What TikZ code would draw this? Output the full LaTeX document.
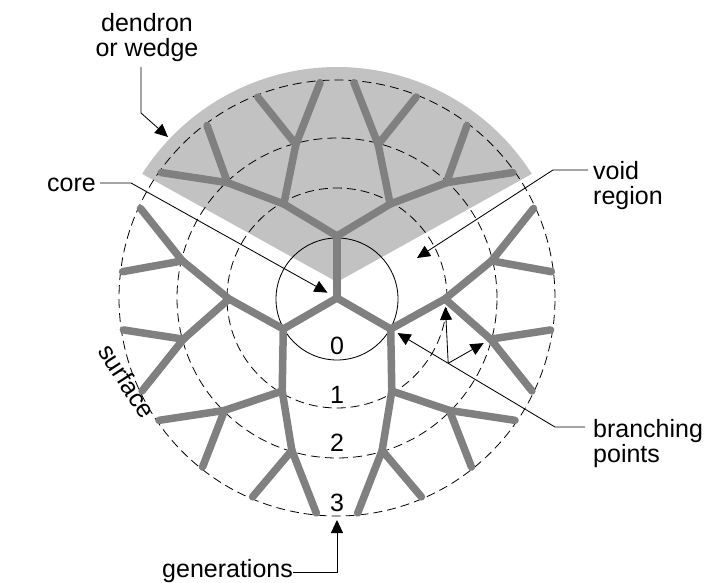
\documentclass[tikz,border=0pt]{standalone}
\usepackage{fontspec}
\setmainfont{Liberation Sans}
\usetikzlibrary{arrows.meta,calc}
\definecolor{bondgray}{RGB}{128,128,128}
\definecolor{wedgegray}{RGB}{194,194,194}
\begin{document}
\begin{tikzpicture}[x=1pt,y=-1pt,
  bond/.style={draw=bondgray, line width=7.5pt, line cap=round, line join=miter},
  shell/.style={draw=black, line width=0.8pt, dash pattern=on 9pt off 5pt},
  ptr/.style={draw=black, line width=0.85pt, -{Triangle[length=13pt,width=12pt]}},
  lbl/.style={font=\fontsize{25}{25}\selectfont, inner sep=0pt, text=black}]
\useasboundingbox (0,0) rectangle (707,583);
\fill[white] (0,0) rectangle (707,583);

\begin{scope}[shift={(337,298)}, yscale=-1]
  % dendron wedge
  \fill[wedgegray] (0,16) -- (147.5:231) arc[start angle=147.5, end angle=32.5, radius=231] -- cycle;
  % generation shells
  \coordinate (core) at (0,0);
  \draw[shell] (core) circle[radius=110];
  \draw[shell] (core) circle[radius=160];
  \draw[shell] (core) circle[radius=218];
  % core
  \draw[line width=0.85pt] (0,-1) circle[radius=61];
  % three dendrons (1: top, 2: lower left, 3: lower right)
  \foreach \k/\rot in {1/0, 2/-120, 3/-240} {
    \begin{scope}[rotate=\rot]
      \coordinate (d\k-b1) at (90:62);
      \coordinate (d\k-b2a) at (119.5:108);
      \coordinate (d\k-b2b) at (60.5:108);
      \coordinate (d\k-b3a) at (133.5:159);
      \coordinate (d\k-b3b) at (105:159);
      \coordinate (d\k-b3c) at (75:159);
      \coordinate (d\k-b3d) at (46.5:159);
      \coordinate (d\k-e1) at (144.5:216);
      \coordinate (d\k-e2) at (127:216);
      \coordinate (d\k-e3) at (111.5:216);
      \coordinate (d\k-e4) at (94.5:216);
      \coordinate (d\k-e5) at (85.5:216);
      \coordinate (d\k-e6) at (68.5:216);
      \coordinate (d\k-e7) at (53:216);
      \coordinate (d\k-e8) at (35.5:216);
      \draw[bond] (core) -- (d\k-b1);
      \draw[bond] (d\k-b2a) -- (d\k-b1) -- (d\k-b2b);
      \draw[bond] (d\k-b3a) -- (d\k-b2a) -- (d\k-b3b);
      \draw[bond] (d\k-b3c) -- (d\k-b2b) -- (d\k-b3d);
      \draw[bond] (d\k-e1) -- (d\k-b3a) -- (d\k-e2);
      \draw[bond] (d\k-e3) -- (d\k-b3b) -- (d\k-e4);
      \draw[bond] (d\k-e5) -- (d\k-b3c) -- (d\k-e6);
      \draw[bond] (d\k-e7) -- (d\k-b3d) -- (d\k-e8);
    \end{scope}
  }
\end{scope}

% generation numbers
\node[lbl] (g0) at (337,346) {0};
\node[lbl] (g1) at (337,395) {1};
\node[lbl] (g2) at (337,443) {2};
\node[lbl] (g3) at (337,503) {3};

% labels
\node[lbl, anchor=north, align=center] (dend) at (147,13) {dendron\\or wedge};
\node[lbl, anchor=base east] (corel) at (96,191) {core};
\node[lbl, anchor=north west, align=left] (voidl) at (593,161) {void\\region};
\node[lbl, anchor=north west, align=left] (bpl) at (593,419) {branching\\points};
\node[lbl, anchor=base west] (genl) at (162,577) {generations};
\node[lbl, rotate=-57] (surf) at (127,381) {surface};

% pointers
\coordinate (dtop) at (141,67);
\coordinate (dk) at (141,113);
\coordinate (dtip) at (168,137);
\draw[ptr] (dtop) -- (dk) -- (dtip);

\coordinate (ck) at (131,183);
\draw[ptr, shorten >=11pt] (corel.east |- ck) ++(4,0) -- (ck) -- (core);

\coordinate (vk) at (553,170);
\coordinate (vtip) at (417,258);
\draw[ptr] (voidl.west |- vk) ++(-5,0) -- (vk) -- (vtip);

\coordinate (bk) at (555,427);
\draw[ptr, shorten >=8pt] (bpl.west |- bk) ++(-8,0) -- (bk) -- (d3-b1);
\path (bk) -- (d3-b1) coordinate[pos=0.65] (bj);
\draw[ptr, shorten >=8pt] (bj) -- (d3-b2a);
\draw[ptr, shorten >=8pt] (bj) -- (d3-b3b);

\coordinate (gk) at (337,572);
\coordinate (gtip) at (337,520);
\draw[ptr] (genl.east |- gk) -- (gk) -- (gtip);
\end{tikzpicture}
\end{document}
